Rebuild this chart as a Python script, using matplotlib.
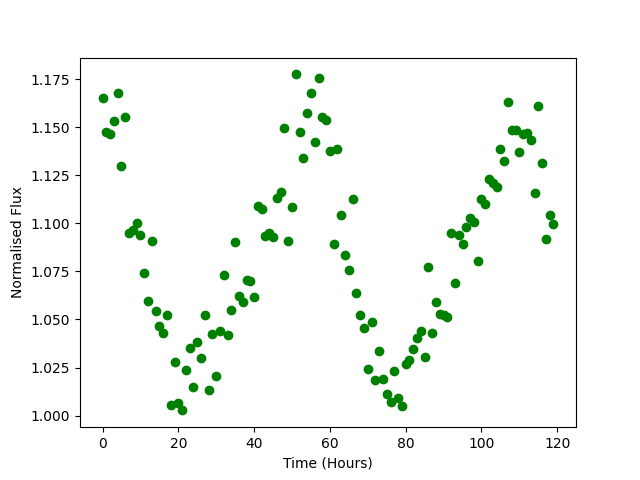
import matplotlib
matplotlib.use('Agg')
import matplotlib.pyplot as plt
import numpy as np

# hourly samples, 0..119
time_hours = np.arange(120)

flux = [
    1.1650, 1.1474, 1.1467, 1.1530, 1.1677, 1.1296, 1.1551, 1.0948, 1.0963, 1.1004,
    1.0941, 1.0744, 1.0594, 1.0910, 1.0542, 1.0465, 1.0432, 1.0521, 1.0055, 1.0277,
    1.0064, 1.0027, 1.0236, 1.0350, 1.0148, 1.0382, 1.0301, 1.0521, 1.0132, 1.0425,
    1.0206, 1.0442, 1.0730, 1.0421, 1.0548, 1.0901, 1.0622, 1.0589, 1.0705, 1.0698,
    1.0615, 1.1091, 1.1073, 1.0934, 1.0951, 1.0927, 1.1131, 1.1162, 1.1494, 1.0906,
    1.1085, 1.1775, 1.1473, 1.1338, 1.1572, 1.1680, 1.1421, 1.1754, 1.1551, 1.1539,
    1.1379, 1.0891, 1.1389, 1.1046, 1.0838, 1.0755, 1.1125, 1.0640, 1.0521, 1.0458,
    1.0242, 1.0489, 1.0184, 1.0335, 1.0189, 1.0111, 1.0069, 1.0231, 1.0092, 1.0048,
    1.0269, 1.0288, 1.0345, 1.0403, 1.0441, 1.0305, 1.0771, 1.0432, 1.0589, 1.0530,
    1.0521, 1.0513, 1.0952, 1.0692, 1.0937, 1.0891, 1.0979, 1.1027, 1.1005, 1.0803,
    1.1125, 1.1103, 1.1233, 1.1209, 1.1190, 1.1389, 1.1326, 1.1634, 1.1488, 1.1485,
    1.1370, 1.1464, 1.1471, 1.1436, 1.1160, 1.1613, 1.1316, 1.0917, 1.1046, 1.0999,
]

fig, ax = plt.subplots(figsize=(6.4, 4.8), dpi=100)
ax.plot(time_hours, flux, 'o', color='green')
ax.set_xlabel('Time (Hours)')
ax.set_ylabel('Normalised Flux')

plt.savefig('out.png', dpi=100)
